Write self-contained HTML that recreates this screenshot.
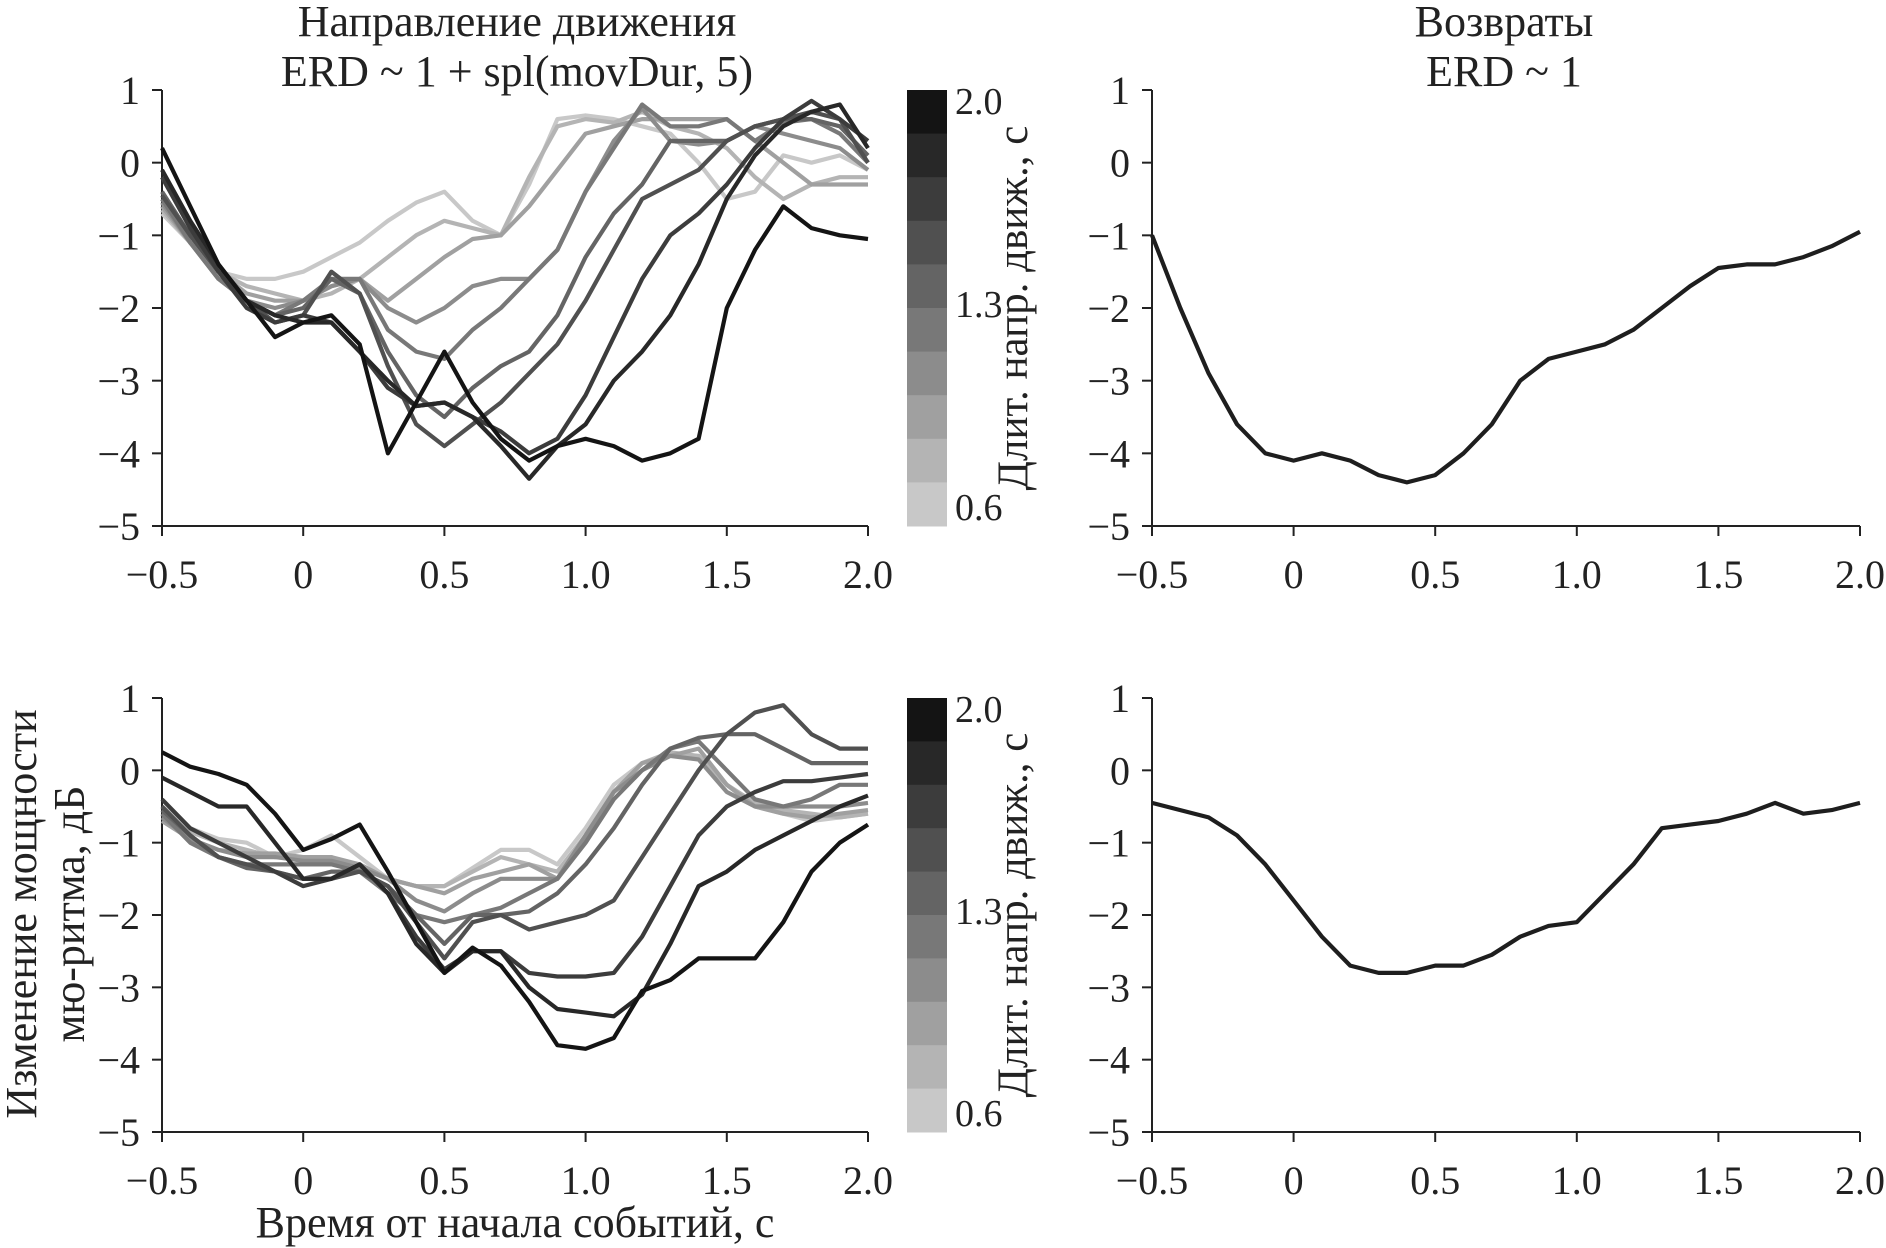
<!DOCTYPE html>
<html><head><meta charset="utf-8"><style>
html,body{margin:0;padding:0;background:#fff;}
svg{display:block;font-family:"Liberation Serif","Noto Serif CJK SC",serif;}
</style></head><body>
<svg id="chart" width="1886" height="1248" viewBox="0 0 1886 1248" xmlns="http://www.w3.org/2000/svg">
<g font-size="44" text-anchor="middle" fill="#222">
<text x="517" y="36">Направление движения</text>
<text x="517" y="86">ERD ~ 1 + spl(movDur, 5)</text>
<text x="1504" y="36">Возвраты</text>
<text x="1504" y="86">ERD ~ 1</text>
<text x="515" y="1237">Время от начала событий, с</text>
<text transform="translate(36,914) rotate(-90)">Изменение мощности</text>
<text transform="translate(84,914) rotate(-90)">мю-ритма, дБ</text>
</g>
</svg>
<script>
const timeTicks = [-0.5, 0, 0.5, 1.0, 1.5, 2.0];
const timeTickLabels = ["−0.5", "0", "0.5", "1.0", "1.5", "2.0"];
const erdTicks = [1, 0, -1, -2, -3, -4, -5];
const erdTickLabels = ["1", "0", "−1", "−2", "−3", "−4", "−5"];
const sampleTimes = [-0.5,-0.4,-0.3,-0.2,-0.1,0,0.1,0.2,0.3,0.4,0.5,0.6,0.7,0.8,0.9,1.0,1.1,1.2,1.3,1.4,1.5,1.6,1.7,1.8,1.9,2.0];
const colorbarLabels = ["2.0", "1.3", "0.6"];
const colorbarValues = [2.0, 1.3, 0.6];
const seriesGreys = ["#c8c8c8","#b4b4b4","#a0a0a0","#8c8c8c","#787878","#646464","#505050","#3c3c3c","#282828","#141414"];

const topLeft1 = [-0.7,-1.1,-1.5,-1.6,-1.6,-1.5,-1.3,-1.1,-0.8,-0.55,-0.4,-0.8,-1.0,-0.3,0.6,0.65,0.6,0.5,0.4,0.0,-0.5,-0.4,0.1,0.0,0.1,-0.1];
const topLeft2 = [-0.65,-1.1,-1.5,-1.7,-1.8,-1.9,-1.8,-1.6,-1.3,-1.0,-0.8,-0.9,-1.0,-0.2,0.5,0.6,0.55,0.7,0.5,0.4,0.2,-0.2,-0.5,-0.3,-0.2,-0.2];
const topLeft3 = [-0.6,-1.1,-1.5,-1.8,-1.9,-1.9,-1.7,-1.6,-1.9,-1.6,-1.3,-1.05,-1.0,-0.6,-0.1,0.4,0.5,0.6,0.6,0.6,0.6,0.3,0.0,-0.3,-0.3,-0.3];
const topLeft4 = [-0.55,-1.1,-1.6,-1.9,-2.0,-1.9,-1.7,-1.6,-2.0,-2.2,-2.0,-1.7,-1.6,-1.6,-1.2,-0.4,0.3,0.75,0.3,0.25,0.3,0.5,0.4,0.3,0.2,-0.1];
const topLeft5 = [-0.5,-1.1,-1.6,-1.9,-2.1,-1.9,-1.6,-1.6,-2.3,-2.6,-2.7,-2.3,-2.0,-1.6,-1.2,-0.4,0.2,0.8,0.5,0.5,0.6,0.3,0.55,0.6,0.4,0.0];
const topLeft6 = [-0.4,-1.0,-1.5,-1.9,-2.1,-2.0,-1.6,-1.8,-2.6,-3.2,-3.5,-3.1,-2.8,-2.6,-2.1,-1.3,-0.7,-0.3,0.3,0.3,0.3,0.5,0.6,0.6,0.5,0.1];
const topLeft7 = [-0.45,-1.0,-1.5,-1.9,-2.2,-2.1,-1.5,-1.8,-2.8,-3.6,-3.9,-3.6,-3.3,-2.9,-2.5,-1.9,-1.2,-0.5,-0.3,-0.1,0.3,0.5,0.6,0.7,0.6,0.0];
const topLeft8 = [-0.2,-0.9,-1.5,-2.0,-2.2,-2.1,-2.2,-2.6,-3.1,-3.35,-3.3,-3.5,-3.7,-4.0,-3.8,-3.2,-2.4,-1.6,-1.0,-0.7,-0.3,0.2,0.6,0.85,0.6,0.3];
const topLeft9 = [-0.1,-0.8,-1.4,-1.9,-2.1,-2.2,-2.2,-2.6,-3.0,-3.35,-3.3,-3.5,-3.9,-4.35,-3.9,-3.6,-3.0,-2.6,-2.1,-1.4,-0.5,0.1,0.5,0.7,0.8,0.2];
const topLeft10 = [0.2,-0.6,-1.4,-1.9,-2.4,-2.2,-2.1,-2.5,-4.0,-3.3,-2.6,-3.3,-3.8,-4.1,-3.9,-3.8,-3.9,-4.1,-4.0,-3.8,-2.0,-1.2,-0.6,-0.9,-1.0,-1.05];

const botLeft1 = [-0.5,-0.8,-0.95,-1.0,-1.2,-1.1,-0.9,-1.2,-1.5,-1.6,-1.6,-1.35,-1.1,-1.1,-1.3,-0.8,-0.2,0.1,0.2,0.2,-0.2,-0.5,-0.6,-0.7,-0.65,-0.6];
const botLeft2 = [-0.6,-0.85,-1.0,-1.1,-1.2,-1.2,-1.2,-1.35,-1.5,-1.6,-1.6,-1.4,-1.2,-1.3,-1.4,-0.9,-0.3,0.1,0.25,0.2,-0.2,-0.45,-0.55,-0.6,-0.65,-0.6];
const botLeft3 = [-0.7,-0.95,-1.1,-1.15,-1.15,-1.2,-1.2,-1.3,-1.5,-1.6,-1.7,-1.5,-1.4,-1.3,-1.5,-0.9,-0.3,0.1,0.2,0.3,-0.2,-0.5,-0.6,-0.65,-0.6,-0.55];
const botLeft4 = [-0.65,-0.95,-1.1,-1.2,-1.2,-1.25,-1.25,-1.35,-1.5,-1.8,-1.95,-1.7,-1.5,-1.5,-1.5,-0.9,-0.3,0.0,0.2,0.15,-0.3,-0.5,-0.5,-0.5,-0.5,-0.45];
const botLeft5 = [-0.6,-1.0,-1.2,-1.3,-1.3,-1.3,-1.3,-1.4,-1.7,-2.0,-2.1,-2.0,-1.9,-1.7,-1.5,-1.0,-0.4,0.0,0.3,0.4,0.0,-0.4,-0.5,-0.4,-0.2,-0.2];
const botLeft6 = [-0.55,-0.9,-1.2,-1.35,-1.4,-1.5,-1.4,-1.4,-1.6,-2.0,-2.4,-2.0,-2.0,-1.95,-1.7,-1.3,-0.8,-0.2,0.3,0.45,0.5,0.5,0.3,0.1,0.1,0.1];
const botLeft7 = [-0.5,-0.9,-1.2,-1.3,-1.4,-1.5,-1.5,-1.4,-1.6,-2.1,-2.6,-2.1,-2.0,-2.2,-2.1,-2.0,-1.8,-1.2,-0.6,0.0,0.5,0.8,0.9,0.5,0.3,0.3];
const botLeft8 = [-0.4,-0.8,-1.0,-1.2,-1.4,-1.6,-1.5,-1.3,-1.7,-2.3,-2.75,-2.5,-2.5,-2.8,-2.85,-2.85,-2.8,-2.3,-1.6,-0.9,-0.5,-0.3,-0.15,-0.15,-0.1,-0.05];
const botLeft9 = [-0.1,-0.3,-0.5,-0.5,-1.0,-1.5,-1.5,-1.3,-1.7,-2.4,-2.8,-2.5,-2.5,-3.0,-3.3,-3.35,-3.4,-3.1,-2.4,-1.6,-1.4,-1.1,-0.9,-0.7,-0.5,-0.35];
const botLeft10 = [0.25,0.05,-0.05,-0.2,-0.6,-1.1,-0.95,-0.75,-1.4,-2.1,-2.8,-2.45,-2.7,-3.2,-3.8,-3.85,-3.7,-3.05,-2.9,-2.6,-2.6,-2.6,-2.1,-1.4,-1.0,-0.75];

const topRight = [-1.0,-2.0,-2.9,-3.6,-4.0,-4.1,-4.0,-4.1,-4.3,-4.4,-4.3,-4.0,-3.6,-3.0,-2.7,-2.6,-2.5,-2.3,-2.0,-1.7,-1.45,-1.4,-1.4,-1.3,-1.15,-0.95];
const botRight = [-0.45,-0.55,-0.65,-0.9,-1.3,-1.8,-2.3,-2.7,-2.8,-2.8,-2.7,-2.7,-2.55,-2.3,-2.15,-2.1,-1.7,-1.3,-0.8,-0.75,-0.7,-0.6,-0.45,-0.6,-0.55,-0.45];

const svg = document.getElementById('chart');
const NS = 'http://www.w3.org/2000/svg';
function mk(tag, attrs, parent){
  const e = document.createElementNS(NS, tag);
  for (const k in attrs) e.setAttribute(k, attrs[k]);
  (parent||svg).appendChild(e);
  return e;
}
function makeScales(x0,x1,y0,y1){
  return {
    x: t => x0 + (t - (-0.5)) / 2.5 * (x1 - x0),
    y: v => y0 + (1 - v) / 6 * (y1 - y0)
  };
}
function drawAxes(name, sc){
  const g = mk('g', {});
  
  
  const xl = mk('line', {x1:sc.x(-0.5), y1:sc.y(1), x2:sc.x(-0.5), y2:sc.y(-5), stroke:'#222','stroke-width':2}, g);
  
  
  const yl = mk('line', {x1:sc.x(-0.5), y1:sc.y(-5), x2:sc.x(2.0), y2:sc.y(-5), stroke:'#222','stroke-width':2}, g);
  
  
  erdTicks.forEach((v,i) => {
    const y = sc.y(v);
    const tk = mk('line', {x1:sc.x(-0.5)-10, y1:y, x2:sc.x(-0.5), y2:y, stroke:'#222','stroke-width':2}, g);
    
    
    const tx = mk('text', {x:sc.x(-0.5)-22, y:y+14, 'font-size':40, 'text-anchor':'end', fill:'#222'}, g);
    tx.textContent = erdTickLabels[i];
    
    
  });
  timeTicks.forEach((t,i) => {
    const x = sc.x(t);
    const tk = mk('line', {x1:x, y1:sc.y(-5), x2:x, y2:sc.y(-5)+10, stroke:'#222','stroke-width':2}, g);
    
    
    const tx = mk('text', {x:x, y:sc.y(-5)+62, 'font-size':40, 'text-anchor':'middle', fill:'#222'}, g);
    tx.textContent = timeTickLabels[i];
    
    
  });
}
function drawSeries(name, sc, vals, color){
  let d = '';
  vals.forEach((v,i) => { d += (i ? 'L' : 'M') + sc.x(sampleTimes[i]).toFixed(1) + ',' + sc.y(v).toFixed(1); });
  const p = mk('path', {d:d, fill:'none', stroke:color, 'stroke-width':4.2, 'stroke-linejoin':'round'});
  
  
}
function drawColorbar(name, x, yTop, yBot){
  const g = mk('g', {});
  
  
  const n = seriesGreys.length;
  const h = (yBot - yTop) / n;
  for (let i = 0; i < n; i++){
    const r = mk('rect', {x:x, y:yTop + i*h, width:40, height:h+0.5, fill:seriesGreys[n-1-i]}, g);
    
    
  }
  const cy = v => yBot - (v - 0.6) / (2.0 - 0.6) * (yBot - yTop - 30) - 20;
  colorbarValues.forEach((v,i) => {
    const t = mk('text', {x:x+48, y:cy(v)+14, 'font-size':38, fill:'#222'}, g);
    t.textContent = colorbarLabels[i];
    
    
  });
  const lab = mk('text', {transform:'translate(' + (x+120) + ',' + ((yTop+yBot)/2) + ') rotate(-90)', 'font-size':43, 'text-anchor':'middle', fill:'#222'}, g);
  lab.textContent = 'Длит. напр. движ., с';
  
  
}

const scTL = makeScales(162, 868, 90, 526);
const scBL = makeScales(162, 868, 698, 1132);
const scTR = makeScales(1152, 1860, 90, 526);
const scBR = makeScales(1152, 1860, 698, 1132);

drawAxes('top-left', scTL);
drawAxes('bottom-left', scBL);
drawAxes('top-right', scTR);
drawAxes('bottom-right', scBR);

const topLeftSeries = [topLeft1,topLeft2,topLeft3,topLeft4,topLeft5,topLeft6,topLeft7,topLeft8,topLeft9,topLeft10];
const botLeftSeries = [botLeft1,botLeft2,botLeft3,botLeft4,botLeft5,botLeft6,botLeft7,botLeft8,botLeft9,botLeft10];
topLeftSeries.forEach((s,i) => drawSeries('top-left-line-' + (i+1), scTL, s, seriesGreys[i]));
botLeftSeries.forEach((s,i) => drawSeries('bottom-left-line-' + (i+1), scBL, s, seriesGreys[i]));
drawSeries('top-right-line', scTR, topRight, '#1e1e1e');
drawSeries('bottom-right-line', scBR, botRight, '#1e1e1e');

drawColorbar('top-colorbar', 907, 90, 526);
drawColorbar('bottom-colorbar', 907, 698, 1132);
</script>
</body></html>
